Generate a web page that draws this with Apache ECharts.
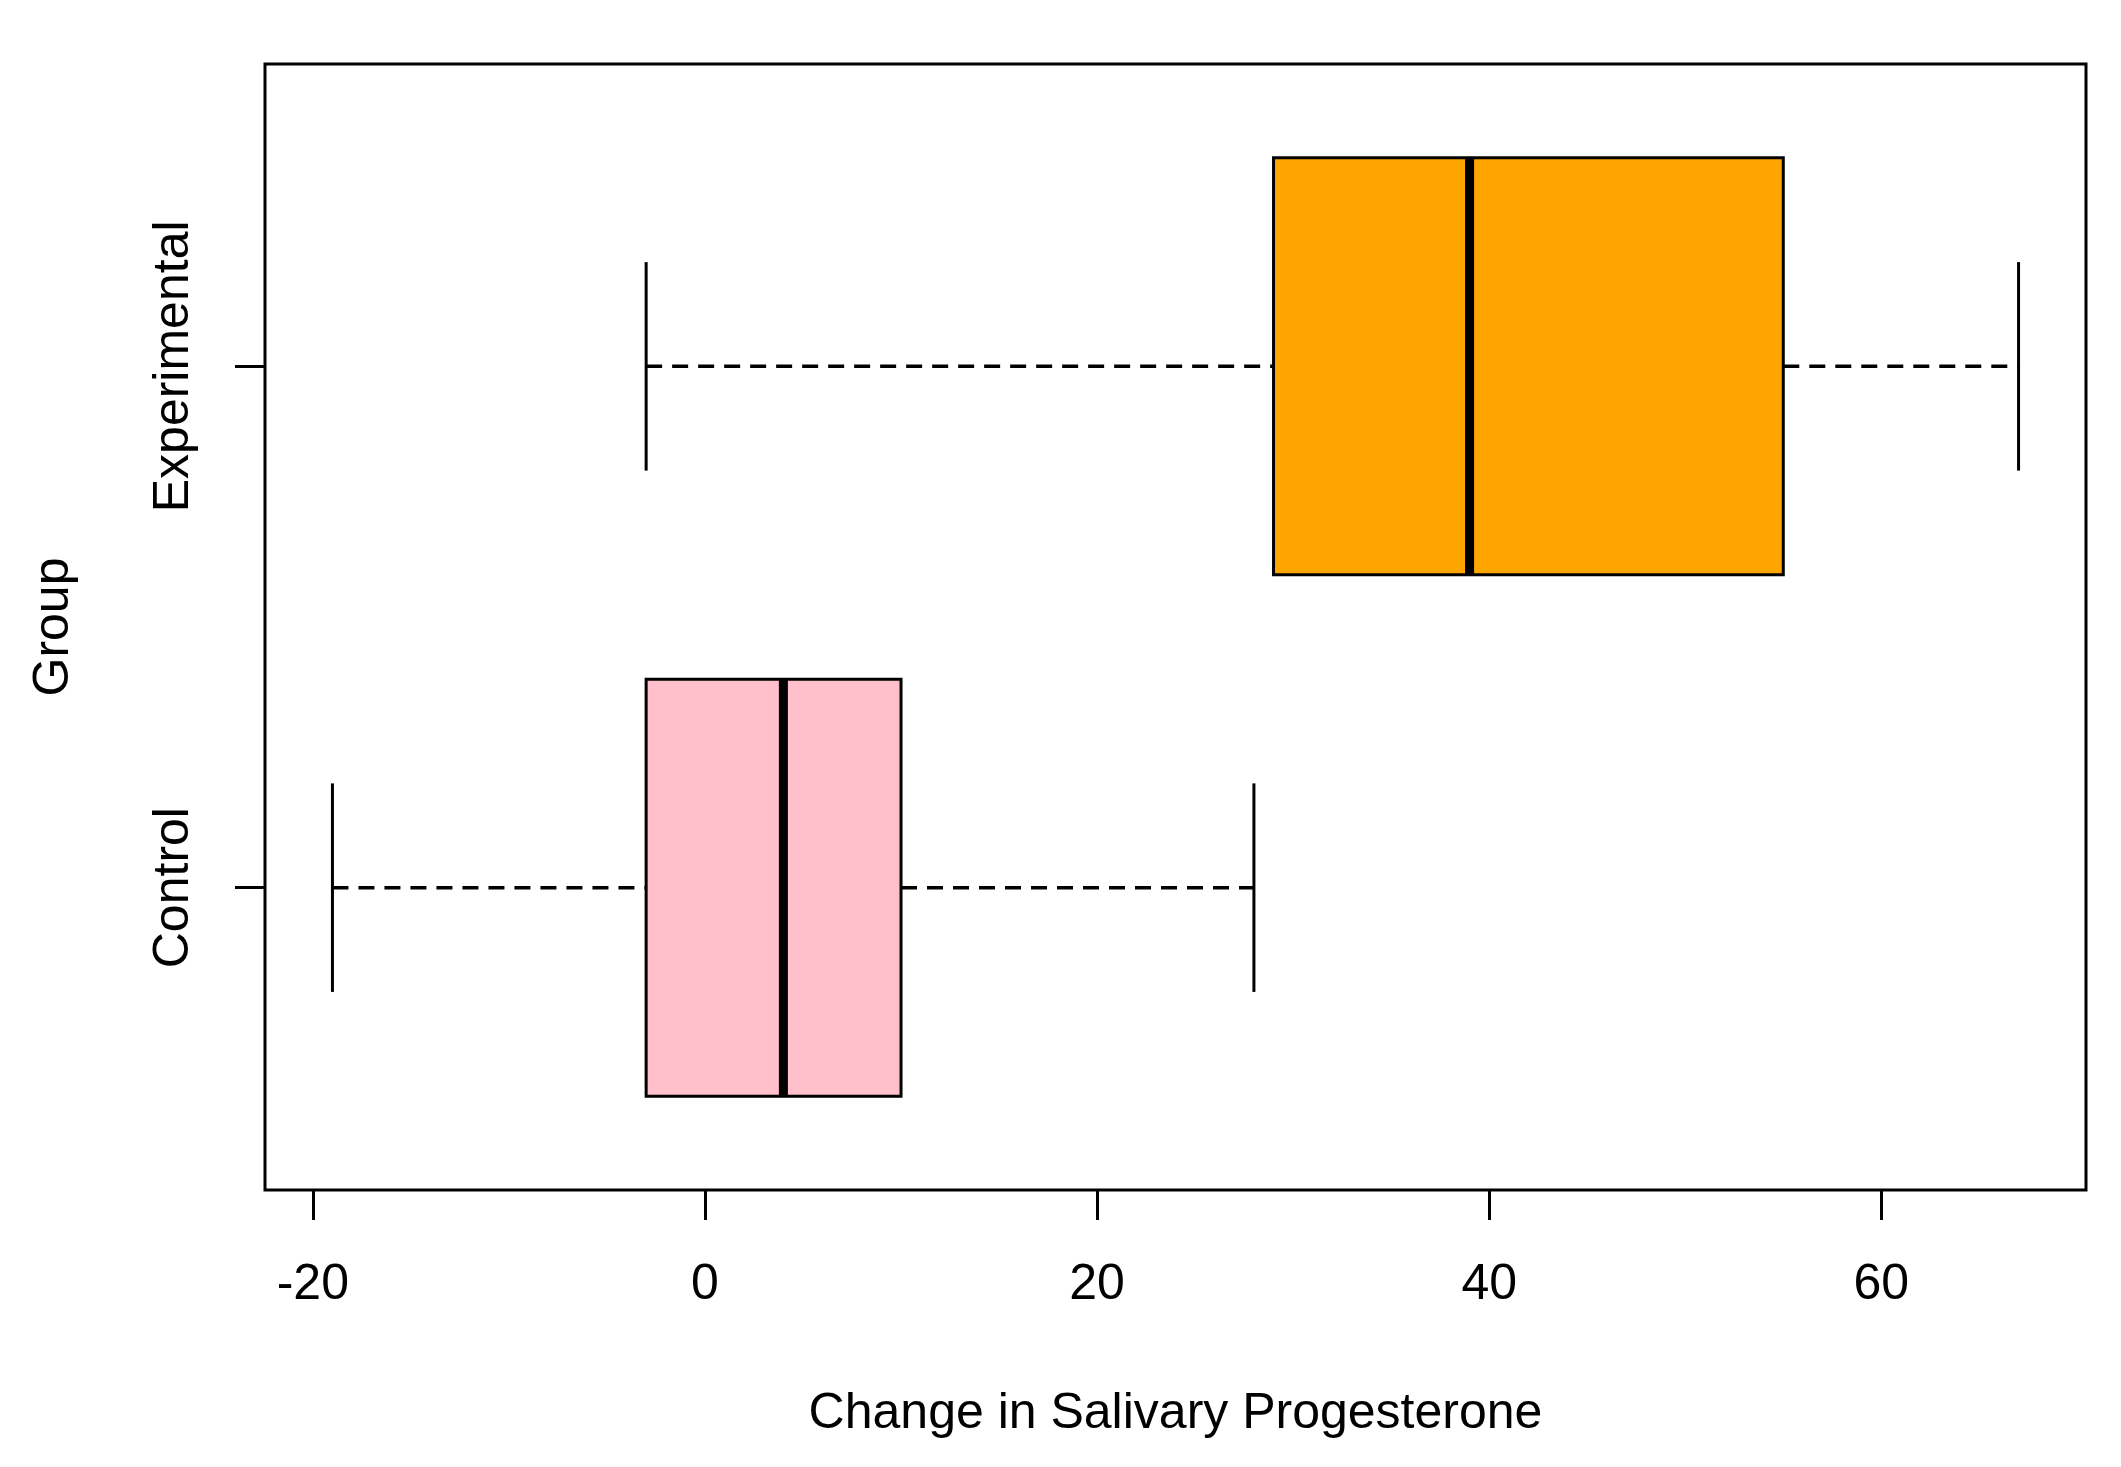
<!DOCTYPE html>
<html>
<head>
<meta charset="utf-8">
<script src="https://cdn.jsdelivr.net/npm/echarts@6/dist/echarts.min.js"></script>
<style>
  html, body { margin: 0; padding: 0; background: #ffffff; }
  #chart { width: 2121px; height: 1467px; }
</style>
</head>
<body>
<div id="chart"></div>
<script>
// ---- data ----
const groups = ['Control', 'Experimental'];
const whiskerLow = [-19, -3];
const q1 = [-3, 29];
const median = [4, 39];
const q3 = [10, 55];
const whiskerHigh = [28, 67];
const xTicks = [-20, 0, 20, 40, 60];
const xTitle = 'Change in Salivary Progesterone';
const yTitle = 'Group';

// ---- styles ----
const fills = ['#FFC0CB', '#FFA500'];
const FONT = 'Liberation Sans, Arial, sans-serif';
const FS = 50;

const rows = groups.map((g, i) => [i + 1, whiskerLow[i], q1[i], median[i], q3[i], whiskerHigh[i]]);
const yPositions = groups.map((g, i) => i + 1);

// R-style 4% range extension
const xMinData = Math.min(...whiskerLow), xMaxData = Math.max(...whiskerHigh);
const xPad = (xMaxData - xMinData) * 0.04;
const yLo = 0.5, yHi = groups.length + 0.5;
const yPad = (yHi - yLo) * 0.04;

const chart = echarts.init(document.getElementById('chart'), null, { renderer: 'canvas' });

function renderItem(params, api) {
  const y = api.value(0);
  const idx = y - 1;
  const low = api.coord([api.value(1), y]);
  const p1 = api.coord([api.value(2), y]);
  const med = api.coord([api.value(3), y]);
  const p3 = api.coord([api.value(4), y]);
  const high = api.coord([api.value(5), y]);
  const boxH = api.size([0, 0.8])[1];
  const stapleH = api.size([0, 0.4])[1];
  const cy = low[1];
  const dashStyle = { stroke: '#000', fill: null, lineWidth: 3.5, lineDash: [16, 10], lineCap: 'butt' };
  const solid = { stroke: '#000', fill: null, lineWidth: 3 };
  return {
    type: 'group',
    children: [
      { type: 'polyline', shape: { points: [[low[0], cy], [p1[0], cy]] }, style: dashStyle },
      { type: 'polyline', shape: { points: [[p3[0], cy], [high[0], cy]] }, style: dashStyle },
      { type: 'line', shape: { x1: low[0], y1: cy - stapleH / 2, x2: low[0], y2: cy + stapleH / 2 }, style: solid },
      { type: 'line', shape: { x1: high[0], y1: cy - stapleH / 2, x2: high[0], y2: cy + stapleH / 2 }, style: solid },
      { type: 'rect', shape: { x: p1[0], y: cy - boxH / 2, width: p3[0] - p1[0], height: boxH },
        style: { fill: fills[idx], stroke: '#000', lineWidth: 3 } },
      { type: 'line', shape: { x1: med[0], y1: cy - boxH / 2, x2: med[0], y2: cy + boxH / 2 },
        style: { stroke: '#000', lineWidth: 9 } }
    ]
  };
}

chart.setOption({
  backgroundColor: '#ffffff',
  animation: false,
  grid: { left: 265, right: 35, top: 64, bottom: 277, show: true, borderColor: '#000', borderWidth: 3, backgroundColor: 'transparent' },
  xAxis: {
    type: 'value',
    position: 'bottom',
    min: xMinData - xPad,
    max: xMaxData + xPad,
    name: xTitle,
    nameLocation: 'middle',
    nameGap: 199,
    nameTextStyle: { fontFamily: FONT, fontSize: FS, color: '#000' },
    axisLine: { show: false, onZero: false },
    splitLine: { show: false },
    axisTick: { show: true, customValues: xTicks, length: 30, lineStyle: { color: '#000', width: 3 } },
    axisLabel: { customValues: xTicks, margin: 70, fontFamily: FONT, fontSize: FS, color: '#000' }
  },
  yAxis: {
    type: 'value',
    position: 'left',
    min: yLo - yPad,
    max: yHi + yPad,
    name: yTitle,
    nameLocation: 'middle',
    nameGap: 186,
    nameRotate: 90,
    nameTextStyle: { fontFamily: FONT, fontSize: FS, color: '#000' },
    axisLine: { show: false, onZero: false },
    splitLine: { show: false },
    axisTick: { show: true, customValues: yPositions, length: 30, lineStyle: { color: '#000', width: 3 } },
    axisLabel: { customValues: yPositions, rotate: 90, margin: 66, fontFamily: FONT, fontSize: FS, color: '#000',
      formatter: v => groups[Math.round(v) - 1] || '' }
  },
  series: [{
    type: 'custom',
    renderItem: renderItem,
    clip: false,
    encode: { x: [1, 2, 3, 4, 5], y: 0 },
    data: rows
  }]
});
</script>
</body>
</html>
